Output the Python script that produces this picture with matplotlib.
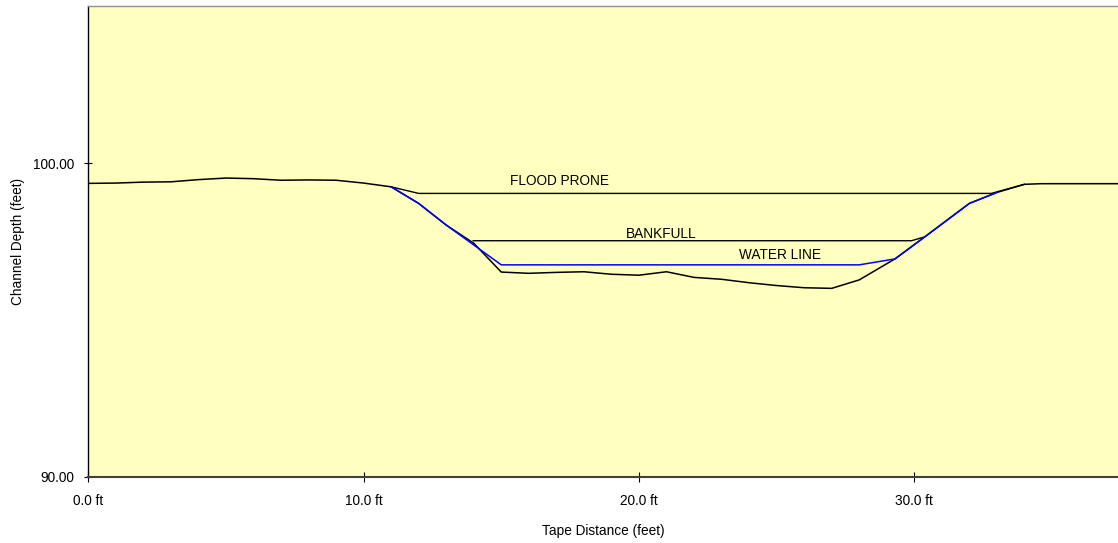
import matplotlib
matplotlib.use("Agg")
import matplotlib.pyplot as plt

plt.rcParams['font.family'] = ['Liberation Sans', 'DejaVu Sans']

# Ground profile (tape distance ft, elevation ft)
ground_x = [0, 1, 2, 3, 4, 5, 6, 7, 8, 9, 10, 11, 12, 13, 14, 15, 16, 17, 18, 19, 20,
            21, 22, 23, 24, 25, 26, 27, 28, 29.3, 30.3, 32, 33, 34, 34.6, 37.5]
ground_y = [99.36, 99.37, 99.40, 99.41, 99.48, 99.53, 99.51, 99.46, 99.47, 99.46, 99.37,
            99.25, 98.72, 98.03, 97.45, 96.53, 96.49, 96.52, 96.54, 96.46, 96.43,
            96.54, 96.36, 96.30, 96.19, 96.10, 96.03, 96.01, 96.28, 96.95, 97.60,
            98.72, 99.07, 99.33, 99.35, 99.35]

# Water line
water_x = [11, 12, 13, 15, 28, 29.3, 30.3, 32, 33]
water_y = [99.25, 98.72, 98.03, 96.76, 96.76, 96.95, 97.60, 98.72, 99.07]

# Bankfull
bank_x = [13.98, 29.9, 30.33]
bank_y = [97.53, 97.53, 97.64]

# Flood prone
flood_x = [11, 12, 32.8, 34]
flood_y = [99.25, 99.04, 99.04, 99.33]

x_ticks = [0, 10, 20, 30]
x_tick_labels = ["0.0 ft", "10.0 ft", "20.0 ft", "30.0 ft"]
y_ticks = [90, 100]
y_tick_labels = ["90.00", "100.00"]

labels = ["FLOOD PRONE", "BANKFULL", "WATER LINE"]
label_x = [17.1, 20.8, 25.14]
label_y = [99.44, 97.74, 97.07]

fig = plt.figure(figsize=(11.18, 5.43), dpi=100)
ax = fig.add_axes([88.3 / 1118, 1 - 476.7 / 543, 1 - 88.3 / 1118, (476.7 - 5.7) / 543])
ax.set_facecolor('#FFFFC0')

ax.plot(ground_x, ground_y, color='black', lw=1.1, zorder=3)
ax.plot(flood_x, flood_y, color='black', lw=1.0, zorder=2)
ax.plot(bank_x, bank_y, color='black', lw=1.0, zorder=2)
ax.plot(water_x, water_y, color='#0000FF', lw=1.1, zorder=4)

fs = 9.8
for t, lx, ly in zip(labels, label_x, label_y):
    ax.text(lx, ly, t, ha='center', va='center', fontsize=fs, color='black')

ax.set_xlim(0, 37.4)
ax.set_ylim(90, 105.03)
ax.set_xticks(x_ticks)
ax.set_xticklabels(x_tick_labels)
ax.set_yticks(y_ticks)
ax.set_yticklabels(y_tick_labels)
ax.tick_params(axis='x', direction='inout', length=6.5, width=0.8, pad=9, labelsize=fs)
ax.tick_params(axis='y', direction='inout', length=6, width=0.8, pad=7, labelsize=fs)

ax.set_xlabel("Tape Distance (feet)", fontsize=fs, labelpad=12)
ax.set_ylabel("Channel Depth (feet)", fontsize=fs, labelpad=6)

ax.spines['left'].set_color('black')
ax.spines['left'].set_linewidth(1.0)
ax.spines['bottom'].set_color('#404040')
ax.spines['bottom'].set_linewidth(1.5)
ax.spines['top'].set_color('#909090')
ax.spines['top'].set_linewidth(1.0)
ax.spines['right'].set_visible(False)

fig.savefig("out.png", dpi=100, facecolor='white')
